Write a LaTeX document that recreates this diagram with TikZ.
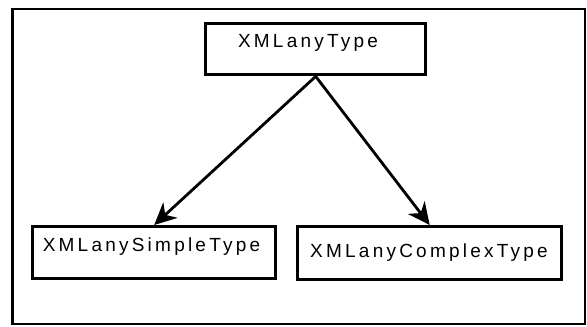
\documentclass[tikz,border=0pt]{standalone}
\usepackage{fontspec}
\setmainfont{Liberation Sans}[LetterSpace=17]
\usetikzlibrary{arrows.meta}
\tikzset{
  box/.style={draw=black, line width=3.4pt, fill=white, inner sep=0pt, anchor=north west},
  lbl/.style={inner sep=0pt, font=\fontsize{19}{22}\selectfont},
  conn/.style={draw=black, line width=2.8pt, -{Stealth[length=22pt,width=21pt,inset=7pt]}},
}
\begin{document}
\begin{tikzpicture}[x=1pt,y=-1pt]
\useasboundingbox (0,0) rectangle (587,327);
\draw[line width=2.8pt] (12.5,9) rectangle (585,324);
\node[box, minimum width=220pt, minimum height=51pt] (top) at (204,22) {};
\node[box, minimum width=243pt, minimum height=52pt] (left) at (31,225) {};
\node[box, minimum width=264pt, minimum height=53pt] (right) at (296,225) {};
\node[lbl] (toplbl) at (308,43) {XMLanyType};
\node[lbl] (leftlbl) at (151.5,247) {XMLanySimpleType};
\node[lbl] (rightlbl) at (429,253) {XMLanyComplexType};
\draw[conn] (top.south) -- (left.north);
\draw[conn] (top.south) -- (right.north);
\end{tikzpicture}
\end{document}
